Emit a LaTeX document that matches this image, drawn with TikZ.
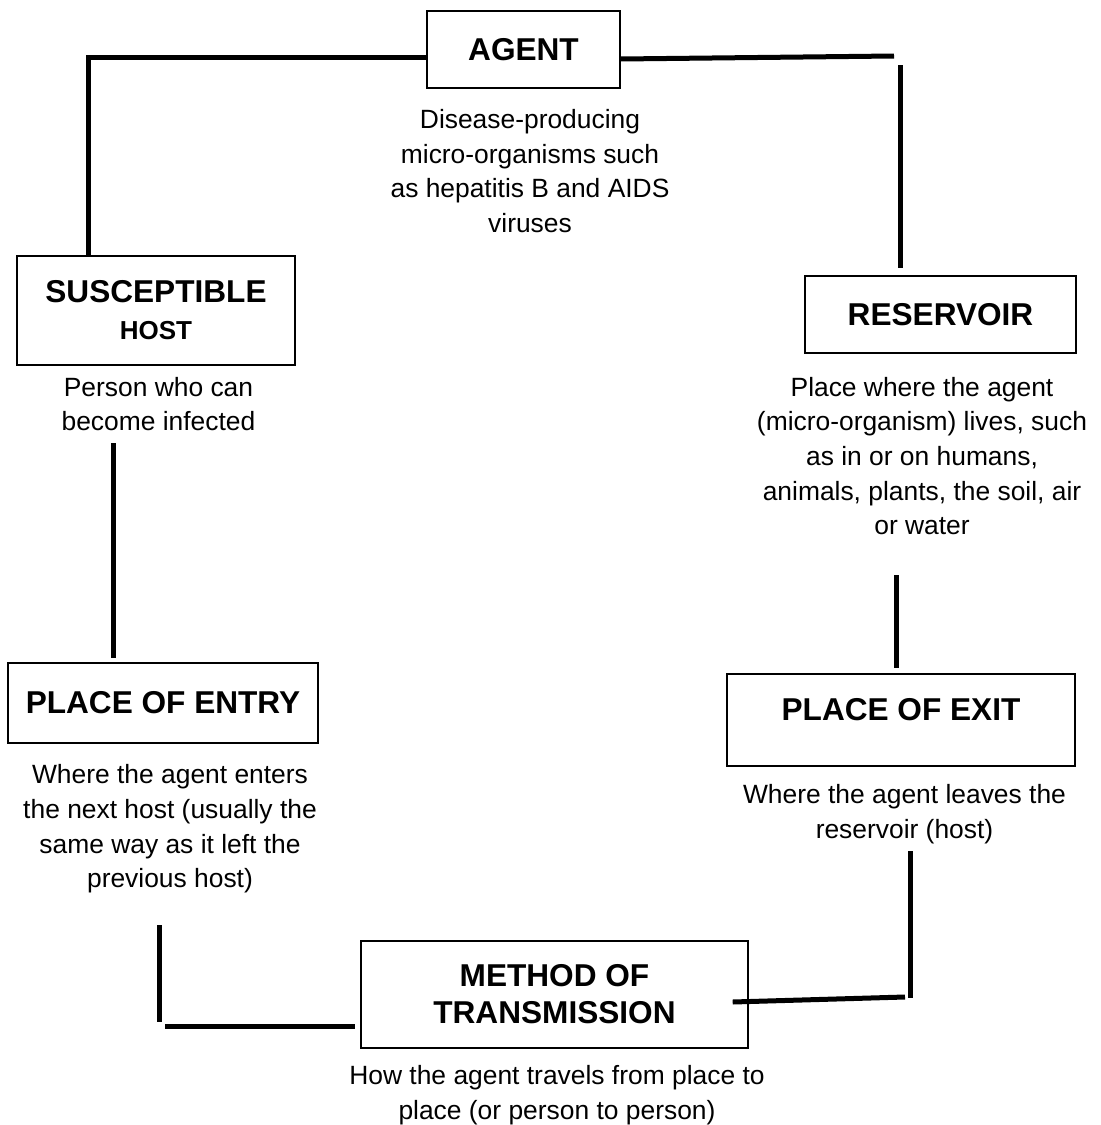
\documentclass[tikz,border=0pt]{standalone}
\usepackage{fontspec}
\setmainfont{Liberation Sans}
\begin{document}
\begin{tikzpicture}[x=0.5pt,y=-0.5pt,
  stage/.style={draw=black, line width=0.7pt, rectangle, inner sep=0pt, align=center,
    font=\fontsize{15.8}{18.5}\selectfont\bfseries},
  note/.style={inner sep=0pt, align=center, font=\fontsize{13.2}{17.3}\selectfont},
  link/.style={draw=black, line width=2.5pt}]
\useasboundingbox (0,0) rectangle (1101,1125);

% the six links of the chain
\node[stage, minimum width=96.5pt, minimum height=38.5pt] (agent) at (523.5,49.5) {AGENT};
\node[stage, minimum width=139pt, minimum height=54.5pt] (susc) at (156,310.5)
  {SUSCEPTIBLE\\{\fontsize{13}{18.5}\selectfont HOST}};
\node[stage, minimum width=135.5pt, minimum height=38.5pt] (res) at (940.5,314.5) {RESERVOIR};
\node[stage, minimum width=155pt, minimum height=40pt] (entry) at (163,703) {PLACE OF ENTRY};
\node[stage, minimum width=174pt, minimum height=46pt] (exit) at (901,720)
  {\raisebox{5pt}[\height][\depth]{PLACE OF EXIT}};
\node[stage, minimum width=193.5pt, minimum height=53.5pt] (method) at (554.5,994.5)
  {METHOD OF\\TRANSMISSION};

% explanations under each box
\node[note] (agentnote) at (530,171)
  {Disease-producing\\micro-organisms such\\as hepatitis B and AIDS\\viruses};
\node[note] (suscnote) at (158.5,404) {Person who can\\become infected};
\node[note] (resnote) at (922,456)
  {Place where the agent\\(micro-organism) lives, such\\as in or on humans,\\animals, plants, the soil, air\\or water};
\node[note] (entrynote) at (170,829)
  {Where the agent enters\\the next host (usually the\\same way as it left the\\previous host)};
\node[note] (exitnote) at (904.5,814) {Where the agent leaves the\\reservoir (host)};
\node[note] (methodnote) at (557,1095)
  {How the agent travels from place to\\place (or person to person)};

% loose ends of the connecting strokes
\coordinate (agentR) at (894,56);
\coordinate (resT1) at (900,65);
\coordinate (resT2) at (900,268);
\coordinate (suscB1) at (113,443);
\coordinate (suscB2) at (113,658);
\coordinate (resB1) at (896,575);
\coordinate (resB2) at (896,668);
\coordinate (exitB1) at (910,851);
\coordinate (exitB2) at (910,998);
\coordinate (exitH) at (905,997);
\coordinate (entryB1) at (159,925);
\coordinate (entryB2) at (159,1022);
\coordinate (entryH) at (165,1026);

% connecting strokes
\draw[link] ([yshift=-3.75pt]agent.west) -| ([xshift=-34pt]susc.north);
\draw[link] ([yshift=-4.75pt]agent.east) -- (agentR);
\draw[link] (resT1) -- (resT2);
\draw[link] (suscB1) -- (suscB2);
\draw[link] (resB1) -- (resB2);
\draw[link] (exitB1) -- (exitB2);
\draw[link] (exitH) -- ([xshift=-8pt,yshift=-3.75pt]method.east);
\draw[link] (entryB1) -- (entryB2);
\draw[link] (entryH) -- ([xshift=-2.5pt,yshift=-15.75pt]method.west);
\end{tikzpicture}
\end{document}
